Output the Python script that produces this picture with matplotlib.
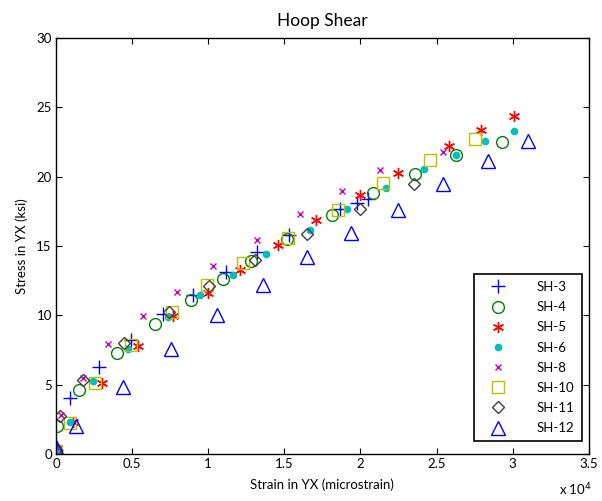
import numpy as np
import matplotlib
matplotlib.use('Agg')
import matplotlib.pyplot as plt

plt.rcParams['font.family'] = ['Lato', 'DejaVu Sans']

# strain in microstrain, stress in ksi
sh3_strain = [0, 920, 2850, 4900, 7000, 9000, 11200, 13200, 15300, 18650, 19800, 20500]
sh3_stress = [0.3, 4.0, 6.3, 8.2, 10.1, 11.5, 13.1, 14.6, 15.8, 17.7, 18.1, 18.4]

sh4_strain = [0, 50, 1530, 4000, 6500, 8850, 11000, 12800, 15200, 18100, 20800, 23600, 26300, 29300]
sh4_stress = [0.3, 2.0, 4.6, 7.3, 9.4, 11.1, 12.6, 13.9, 15.5, 17.2, 18.8, 20.2, 21.6, 22.5]

sh5_strain = [0, 1140, 3000, 5400, 7700, 9960, 12100, 14600, 17100, 19960, 22500, 25800, 27950, 30100]
sh5_stress = [0.4, 2.3, 5.1, 7.8, 9.95, 11.6, 13.3, 15.1, 16.9, 18.7, 20.3, 22.2, 23.4, 24.4]

sh6_strain = [0, 920, 2450, 4750, 7370, 9450, 11600, 13800, 16700, 19100, 21700, 24200, 26300, 28200, 30100]
sh6_stress = [0.3, 2.3, 5.26, 7.6, 9.85, 11.5, 12.9, 14.4, 16.15, 17.7, 19.2, 20.55, 21.6, 22.6, 23.3]

sh8_strain = [0, 300, 1750, 3400, 5700, 7960, 10300, 13200, 16000, 18800, 21300, 25400]
sh8_stress = [0.5, 2.8, 5.45, 7.9, 9.95, 11.66, 13.55, 15.4, 17.3, 19.0, 20.5, 21.8]

sh10_strain = [0, 920, 2560, 4900, 7600, 9900, 12300, 15250, 18500, 21500, 24550, 27550]
sh10_stress = [0.2, 2.26, 5.1, 7.86, 10.26, 12.2, 13.8, 15.6, 17.6, 19.56, 21.2, 22.7]

sh11_strain = [0, 260, 1800, 4460, 7440, 10070, 13100, 16500, 19960, 23500]
sh11_stress = [0.3, 2.7, 5.3, 8.0, 10.26, 12.1, 14.0, 15.86, 17.7, 19.5]

sh12_strain = [0, 1300, 4400, 7550, 10550, 13600, 16500, 19400, 22500, 25400, 28350, 31000]
sh12_stress = [0.5, 2.0, 4.8, 7.55, 10.0, 12.2, 14.2, 15.95, 17.6, 19.5, 21.1, 22.6]

fig = plt.figure(figsize=(6.02, 5.01), dpi=100)
ax = fig.add_axes([0.093, 0.094, 0.885, 0.83])

# (label, strain, stress, marker, color, size, filled)
series = [
    ('SH-3', sh3_strain, sh3_stress, '+', '#0000ff', 10, False),
    ('SH-4', sh4_strain, sh4_stress, 'o', '#008000', 8.5, False),
    ('SH-5', sh5_strain, sh5_stress, (6, 2, 0), '#ff0000', 8, False),
    ('SH-6', sh6_strain, sh6_stress, 'o', '#00bfbf', 4.5, True),
    ('SH-8', sh8_strain, sh8_stress, 'x', '#bf00bf', 5, False),
    ('SH-10', sh10_strain, sh10_stress, 's', '#bfbf00', 9, False),
    ('SH-11', sh11_strain, sh11_stress, 'D', '#404040', 6.5, False),
    ('SH-12', sh12_strain, sh12_stress, '^', '#0000ff', 10, False),
]

for label, xs, ys, mk, col, ms, filled in series:
    x = np.array(xs) / 1e4
    ax.plot(x, ys, linestyle='none', marker=mk, markersize=ms,
            color=col, markerfacecolor=col if filled else 'none',
            markeredgecolor=col, markeredgewidth=1.0, label=label)

ax.set_xlim(0, 3.5)
ax.set_ylim(0, 30)
ax.set_xticks(np.arange(0, 3.51, 0.5))
ax.set_xticklabels(['0', '0.5', '1', '1.5', '2', '2.5', '3', '3.5'])
ax.set_yticks(np.arange(0, 31, 5))
ax.tick_params(direction='in', top=True, right=True, length=4, labelsize=9.5, pad=3)
for s in ax.spines.values():
    s.set_linewidth(1.0)

ax.set_title('Hoop Shear', fontsize=12.5, pad=9)
ax.set_xlabel('Strain in YX (microstrain)', fontsize=9.5, labelpad=6)
ax.set_ylabel('Stress in YX (ksi)', fontsize=9.5, labelpad=6)
fig.text(0.928, 0.012, r'x 10$^{4}$', fontsize=9.5)

leg = ax.legend(loc='lower right', bbox_to_anchor=(0.999, 0.014), fontsize=9.5,
                fancybox=False, edgecolor='black', framealpha=1,
                labelspacing=0.62, handletextpad=1.6, borderpad=0.55,
                handlelength=2.6, numpoints=1)
leg.get_frame().set_linewidth(1.2)

fig.savefig('out.png', dpi=100)
